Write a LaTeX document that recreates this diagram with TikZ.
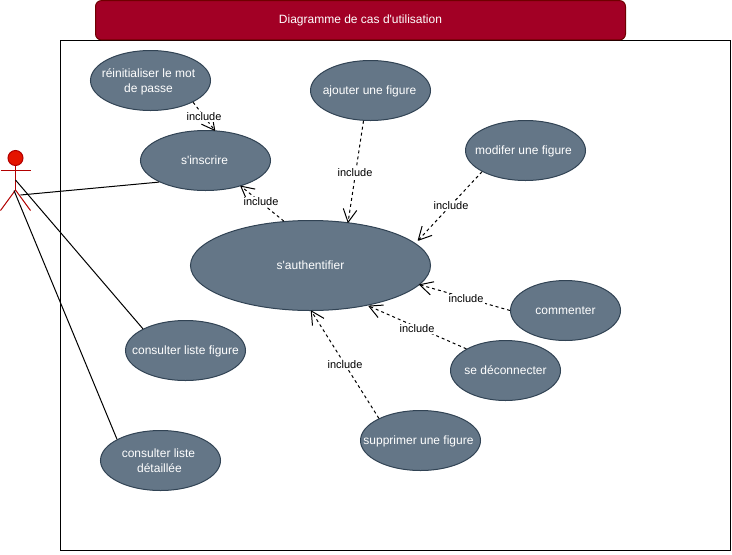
\documentclass[tikz,border=0pt]{standalone}
\usepackage{fontspec}
\setmainfont{Liberation Sans}
\usetikzlibrary{shapes.geometric,arrows.meta}
\definecolor{titlefill}{HTML}{A20025}
\definecolor{titleline}{HTML}{6F0000}
\definecolor{casefill}{HTML}{647687}
\definecolor{caseline}{HTML}{314354}
\definecolor{actorfill}{HTML}{E51400}
\definecolor{actorline}{HTML}{B20000}
% one line of centred text of no width, so that the ellipse keeps its size;
% the optional value moves it to the left by half of that value
\newcommand{\nw}[2][0pt]{\raisebox{0pt}[\dimexpr\height+1.5pt\relax][\depth]{\makebox[0pt][c]{#2\hspace{#1}}}}
% the same, without the small downward shift
\newcommand{\nwt}[2][0pt]{\makebox[0pt][c]{#2\hspace{#1}}}
\pgfdeclarearrow{
  name=OpenBarb,
  setup code={
    \pgfarrowssettipend{0pt}
    \pgfarrowssetlineend{-0.4pt}
    \pgfarrowssetvisualbackend{-9.75pt}
    \pgfarrowssetbackend{-9.75pt}
    \pgfarrowshullpoint{0pt}{0pt}
    \pgfarrowshullpoint{-9.75pt}{5.1pt}
    \pgfarrowshullpoint{-9.75pt}{-5.1pt}
  },
  drawing code={
    \pgfsetdash{}{0pt}
    \pgfsetlinewidth{0.75pt}
    \pgfsetroundjoin
    \pgfpathmoveto{\pgfpoint{-9.75pt}{5.1pt}}
    \pgfpathlineto{\pgfpointorigin}
    \pgfpathlineto{\pgfpoint{-9.75pt}{-5.1pt}}
    \pgfusepathqstroke
  }
}
\tikzset{
  x=0.75pt,y=-0.75pt,
  usecase/.style={ellipse,draw=caseline,fill=casefill,text=white,line width=0.75pt,inner sep=0pt,minimum height=45pt,align=center,font=\fontsize{9pt}{11.25pt}\selectfont},
  includeline/.style={draw=black,line width=0.75pt,dash pattern=on 2.25pt off 2.25pt,-OpenBarb},
  assoc/.style={draw=black,line width=0.75pt},
  includelabel/.style={fill=white,text=black,inner sep=1pt,font=\fontsize{8.25pt}{10pt}\selectfont},
  actorpart/.style={draw=actorline,line width=0.75pt}
}
\begin{document}
\begin{tikzpicture}
\useasboundingbox (0,0) rectangle (732,554);
\fill[white] (0,0) rectangle (732,554);
% frame and title
\node[draw=black,line width=0.75pt,minimum width=502.5pt,minimum height=382.5pt,inner sep=0pt] (frame) at (395.5,295.5) {};
\node[draw=titleline,fill=titlefill,text=white,rounded corners=4.5pt,line width=0.75pt,minimum width=397.5pt,minimum height=29.5pt,inner sep=0pt,font=\fontsize{9pt}{11pt}\selectfont] (title) at (360.5,20.25) {Diagramme de cas d\textquotesingle utilisation};
% actor
\node[circle,draw=actorline,fill=actorfill,line width=0.75pt,minimum size=11.25pt,inner sep=0pt] (head) at (15.5,158) {};
\coordinate (hip) at (15.5,190);
\coordinate (armL) at (0.5,170.5);
\coordinate (armR) at (30.5,170.5);
\coordinate (legL) at (0.5,210.5);
\coordinate (legR) at (30.5,210.5);
\coordinate (actorA) at (20.5,195);
\coordinate (actorB) at (15.5,180);
\coordinate (actorC) at (14,190.5);
\draw[actorpart] (head) -- (hip);
\draw[actorpart] (armL) -- (armR);
\draw[actorpart] (legL) -- (hip) -- (legR);
% use cases
\node[usecase,minimum width=90pt] (reset) at (150.5,80.5) {\nw[3pt]{réinitialiser le mot}\\\nw[3pt]{de passe}};
\node[usecase,minimum width=90pt] (add) at (370.5,90.5) {\nw[1.5pt]{ajouter une figure}};
\node[usecase,minimum width=90pt] (edit) at (525.5,150.5) {\nw[3pt]{modifer une figure}};
\node[usecase,minimum width=97.5pt] (signup) at (205.5,160.5) {\nwt[1.5pt]{s\textquotesingle inscrire}};
\node[usecase,minimum width=180pt,minimum height=67.5pt] (auth) at (310.5,265.5) {\nwt{s\textquotesingle authentifier}};
\node[usecase,minimum width=82.5pt] (comment) at (565.5,310.5) {\nwt{commenter}};
\node[usecase,minimum width=82.5pt] (logout) at (505.5,370.5) {\nwt{se déconnecter}};
\node[usecase,minimum width=90pt] (remove) at (420.5,440.5) {\nw[3pt]{supprimer une figure}};
\node[usecase,minimum width=90pt] (listfig) at (185.5,350.5) {\nw{consulter liste figure}};
\node[usecase,minimum width=90pt] (listdet) at (160.5,460.5) {\nwt[3pt]{consulter liste}\\\nwt[1.5pt]{détaillée}};
% associations
\draw[assoc] (actorA) -- (signup.205);
\draw[assoc] (actorB) -- (listfig.153);
\draw[assoc] (actorC) -- (listdet.154.6);
% includes
\draw[includeline] (reset.-27) -- (signup.73);
\draw[includeline] (auth.121) -- (signup.-36.6);
\draw[includeline] (add.257) -- (auth.49.3);
\draw[includeline,shorten >=3pt] (edit.206.6) -- (auth.12.8);
\draw[includeline] (comment.180) -- (auth.-10.2);
\draw[includeline,shorten >=1pt] (logout.151) -- (auth.-35.4);
\draw[includeline] (remove.152) -- (auth.-89);
% labels
\node[includelabel] (l1) at (204,117) {include};
\node[includelabel] (l2) at (261,202) {include};
\node[includelabel] (l3) at (355,173) {include};
\node[includelabel] (l4) at (451,206) {include};
\node[includelabel] (l5) at (466,299) {include};
\node[includelabel] (l6) at (417,329) {include};
\node[includelabel] (l7) at (345,365) {include};
\end{tikzpicture}
\end{document}
